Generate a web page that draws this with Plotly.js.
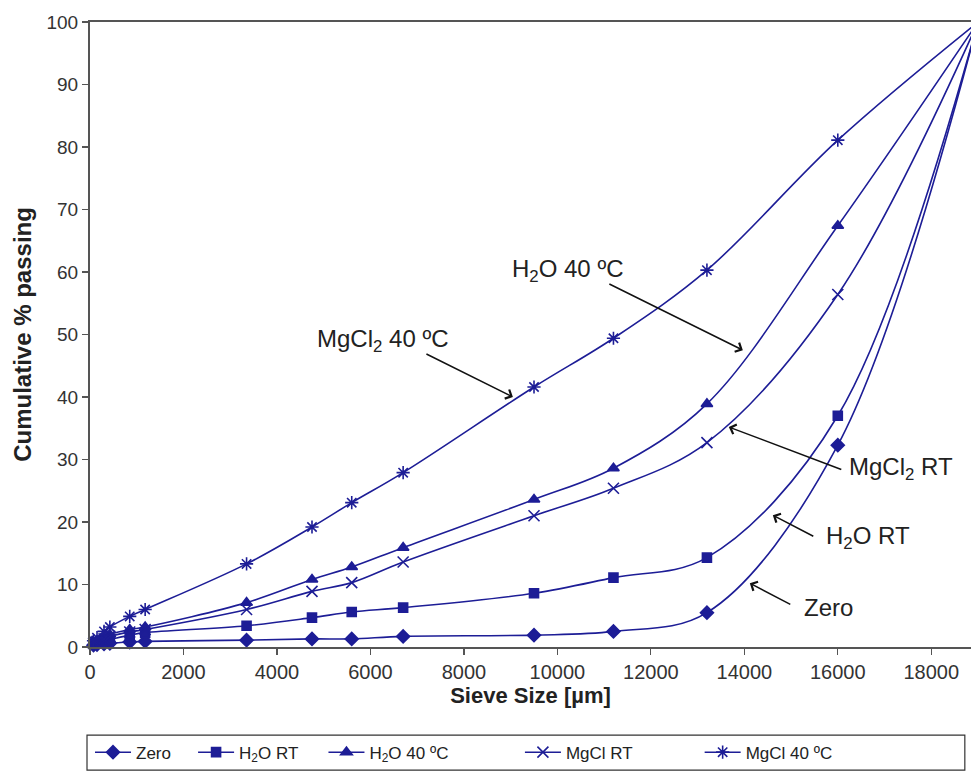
<!DOCTYPE html>
<html>
<head>
<meta charset="utf-8">
<script src="https://cdn.plot.ly/plotly-3.0.1.min.js"></script>
<style>
html,body{margin:0;padding:0;background:#fff;}
#chart{width:971px;height:776px;}
</style>
</head>
<body>
<div id="chart"></div>
<script>
// Sieve sizes (µm)
const sieveSize = [75, 150, 300, 425, 850, 1180, 3350, 4750, 5600, 6700, 9500, 11200, 13200, 16000, 19000];
// Cumulative % passing per treatment
const zero     = [0.3, 0.4, 0.5, 0.6, 0.8, 0.9, 1.1, 1.3, 1.3, 1.7, 1.9, 2.5, 5.5, 32.3, 100];
const h2oRT    = [0.5, 0.7, 1.0, 1.2, 1.9, 2.3, 3.4, 4.7, 5.6, 6.3, 8.6, 11.1, 14.3, 37.0, 100];
const h2o40    = [0.7, 1.0, 1.5, 2.0, 2.8, 3.2, 7.1, 10.8, 12.8, 15.9, 23.6, 28.6, 38.9, 67.4, 100];
const mgclRT   = [0.6, 0.9, 1.3, 1.7, 2.4, 2.8, 6.0, 8.9, 10.3, 13.6, 21.0, 25.4, 32.7, 56.4, 100];
const mgcl40   = [1.0, 1.5, 2.5, 3.2, 4.9, 6.0, 13.3, 19.2, 23.1, 27.9, 41.6, 49.4, 60.3, 81.1, 100];
const seriesNames = ['Zero', 'H<sub>2</sub>O RT', 'H<sub>2</sub>O 40 ºC', 'MgCl RT', 'MgCl 40 ºC'];
const xTickVals = [0, 2000, 4000, 6000, 8000, 10000, 12000, 14000, 16000, 18000];
const xTickText = ['0', '2000', '4000', '6000', '8000', '10000', '12000', '14000', '16000', '18000'];
const yTickVals = [0, 10, 20, 30, 40, 50, 60, 70, 80, 90, 100];

const col = '#1d1d96';
const symbols = ['diamond', 'square', 'triangle-up', 'x-thin-open', 'asterisk-open'];
const msizes = [10, 9, 10, 11, 11];
const allY = [zero, h2oRT, h2o40, mgclRT, mgcl40];
const legendIds = ['legend', 'legend2', 'legend3', 'legend4', 'legend5'];

const traces = allY.map((ys, i) => ({
  type: 'scatter', mode: 'lines+markers',
  x: sieveSize, y: ys, name: seriesNames[i],
  legend: legendIds[i],
  line: {color: col, width: 1.6, shape: 'spline', smoothing: 1},
  marker: {color: col, symbol: symbols[i], size: msizes[i], line: {color: col, width: 1.6}},
  cliponaxis: false
}));

const fontFam = 'Liberation Sans, Arial, sans-serif';
const annoFont = {family: fontFam, size: 24, color: '#222'};

function arrow(x, y, ax, ay) {
  return {x: x, y: y, ax: ax, ay: ay, xref: 'x', yref: 'y', axref: 'x', ayref: 'y',
    text: '', showarrow: true, arrowhead: 4, arrowsize: 1.3, arrowwidth: 1.5,
    arrowcolor: '#111', standoff: 0, startstandoff: 0};
}
function label(x, y, text, anchor) {
  return {x: x, y: y, xref: 'x', yref: 'y', text: text, showarrow: false,
    xanchor: anchor, yanchor: 'middle', font: annoFont};
}

const annotations = [
  label(6267, 49.1, 'MgCl<sub>2</sub> 40 ºC', 'center'),
  arrow(9048, 40.0, 7166, 47.0),
  label(10225, 60.3, 'H<sub>2</sub>O 40 ºC', 'center'),
  arrow(13968, 47.5, 11080, 58.2),
  label(16193, 28.5, 'MgCl<sub>2</sub> RT', 'left'),
  arrow(13668, 35.2, 16107, 28.3),
  label(15701, 17.6, 'H<sub>2</sub>O RT', 'left'),
  arrow(14610, 21.1, 15508, 17.6),
  label(15230, 6.4, 'Zero', 'left'),
  arrow(14118, 10.2, 15016, 6.7)
];

const legFont = {family: 'Liberation Sans Narrow, Liberation Sans, Arial Narrow, sans-serif', size: 17, color: '#222'};
const legX = [0.0, 0.117, 0.265, 0.488, 0.692];
const layout = {
  width: 971, height: 776,
  margin: {l: 90, r: 0, t: 22, b: 129},
  paper_bgcolor: '#fff', plot_bgcolor: '#fff',
  font: {family: fontFam, color: '#333'},
  showlegend: true,
  xaxis: {
    range: [0, 18850], tickvals: xTickVals, ticktext: xTickText, ticks: 'outside', ticklen: 6, tickwidth: 1.2,
    tickcolor: '#555', showline: true, linecolor: '#555', linewidth: 2, mirror: true,
    showgrid: false, zeroline: false, tickfont: {family: fontFam, size: 20, color: '#333'},
    title: {text: '<b>Sieve Size [µm]</b>', font: {family: fontFam, size: 22, color: '#222'}, standoff: 6}
  },
  yaxis: {
    range: [0, 100], tickvals: yTickVals, ticks: 'outside', ticklen: 6, tickwidth: 1.2,
    tickcolor: '#555', showline: true, linecolor: '#555', linewidth: 2,
    showgrid: false, zeroline: false, tickfont: {family: fontFam, size: 19, color: '#333'},
    title: {text: '<b>Cumulative % passing</b>', font: {family: fontFam, size: 24, color: '#222'}, standoff: 8}
  },
  annotations: annotations,
  shapes: [{type: 'rect', xref: 'paper', yref: 'paper', x0: -0.0034, x1: 0.993, y0: -0.197, y1: -0.141,
    line: {color: '#333', width: 1.2}, fillcolor: 'rgba(0,0,0,0)'}]
};
legendIds.forEach((id, i) => {
  layout[id] = {x: legX[i], y: -0.169, xanchor: 'left', yanchor: 'middle', orientation: 'h',
    bgcolor: 'rgba(0,0,0,0)', borderwidth: 0, font: legFont, itemwidth: 36};
});

Plotly.newPlot('chart', traces, layout, {displayModeBar: false, staticPlot: true});
</script>
</body>
</html>
